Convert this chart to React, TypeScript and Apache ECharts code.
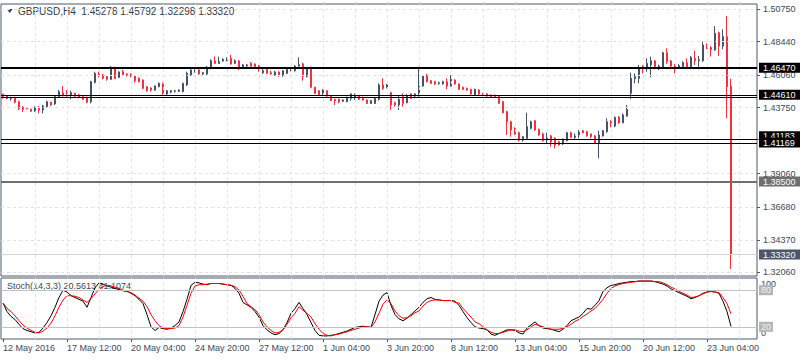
import React, { useEffect, useRef } from "react";
import * as echarts from "echarts";

const headerText = "GBPUSD,H4\u00a0\u00a01.45278 1.45792 1.32298 1.33320";
const stochText = "Stoch(14,3,3) 20.5613 41.1074";
const timeLabels = ["12 May 2016", "17 May 12:00", "20 May 04:00", "24 May 20:00", "27 May 12:00", "1 Jun 04:00", "3 Jun 20:00", "8 Jun 12:00", "13 Jun 04:00", "15 Jun 20:00", "20 Jun 12:00", "23 Jun 04:00"];
const priceTicks = [1.5075, 1.4844, 1.4606, 1.4375, 1.4148, 1.3906, 1.3668, 1.3437, 1.3206];
const priceMin = 1.31798;
const priceMax = 1.51105;
const slotCount = 189;

const opens = [
1.4469,1.4457,1.4439,1.4446,1.4417,1.4375,1.4372,1.4363,1.4346,1.4370,
1.4358,1.4382,1.4413,1.4401,1.4453,1.4481,1.4481,1.4465,1.4476,1.4465,
1.4453,1.4448,1.4417,1.4554,1.4614,1.4607,1.4595,1.4576,1.4659,1.4590,
1.4630,1.4614,1.4611,1.4602,1.4583,1.4571,1.4524,1.4514,1.4500,1.4524,
1.4547,1.4472,1.4486,1.4491,1.4491,1.4488,1.4536,1.4607,1.4630,1.4642,
1.4614,1.4614,1.4661,1.4706,1.4689,1.4706,1.4708,1.4725,1.4689,1.4706,
1.4661,1.4670,1.4689,1.4685,1.4670,1.4623,1.4647,1.4623,1.4607,1.4628,
1.4600,1.4618,1.4637,1.4637,1.4670,1.4685,1.4595,1.4661,1.4519,1.4495,
1.4465,1.4495,1.4457,1.4434,1.4434,1.4420,1.4417,1.4441,1.4448,1.4457,
1.4448,1.4429,1.4405,1.4405,1.4434,1.4536,1.4519,1.4481,1.4410,1.4394,
1.4453,1.4410,1.4472,1.4457,1.4457,1.4528,1.4607,1.4566,1.4559,1.4547,
1.4543,1.4559,1.4528,1.4571,1.4543,1.4519,1.4512,1.4505,1.4465,1.4500,
1.4476,1.4472,1.4465,1.4462,1.4457,1.4417,1.4346,1.4275,1.4228,1.4197,
1.4145,1.4157,1.4228,1.4282,1.4221,1.4188,1.4145,1.4174,1.4157,1.4133,
1.4117,1.4140,1.4197,1.4164,1.4164,1.4211,1.4204,1.4188,1.4174,1.4121,
1.4174,1.4204,1.4275,1.4244,1.4306,1.4268,1.4315,1.4477,1.4581,1.4583,
1.4666,1.4654,1.4678,1.4706,1.4651,1.4654,1.4765,1.4706,1.4678,1.4654,
1.4666,1.4694,1.4654,1.4725,1.4708,1.4708,1.4817,1.4801,1.4784,1.4907,
1.4812,1.4879,1.45278];

const highs = [
1.4476,1.4465,1.4453,1.4453,1.4424,1.4387,1.4377,1.4368,1.4382,1.4387,
1.4394,1.4424,1.4417,1.4457,1.4500,1.4528,1.4500,1.4495,1.4481,1.4472,
1.4457,1.4453,1.4566,1.4630,1.4630,1.4614,1.4600,1.4670,1.4666,1.4633,
1.4642,1.4618,1.4618,1.4607,1.4590,1.4576,1.4528,1.4519,1.4533,1.4554,
1.4552,1.4500,1.4500,1.4500,1.4505,1.4552,1.4630,1.4647,1.4654,1.4647,
1.4628,1.4670,1.4718,1.4737,1.4737,1.4725,1.4732,1.4749,1.4718,1.4713,
1.4685,1.4685,1.4699,1.4689,1.4678,1.4654,1.4651,1.4637,1.4637,1.4633,
1.4642,1.4654,1.4661,1.4678,1.4732,1.4694,1.4661,1.4666,1.4524,1.4500,
1.4505,1.4500,1.4465,1.4439,1.4439,1.4434,1.4453,1.4476,1.4476,1.4465,
1.4453,1.4434,1.4429,1.4448,1.4547,1.4583,1.4543,1.4488,1.4417,1.4465,
1.4476,1.4472,1.4476,1.4476,1.4666,1.4607,1.4614,1.4571,1.4566,1.4559,
1.4566,1.4583,1.4607,1.4576,1.4547,1.4524,1.4517,1.4509,1.4509,1.4505,
1.4481,1.4476,1.4469,1.4467,1.4465,1.4424,1.4353,1.4282,1.4235,1.4204,
1.4174,1.4339,1.4282,1.4287,1.4226,1.4197,1.4197,1.4181,1.4164,1.4140,
1.4157,1.4204,1.4204,1.4192,1.4216,1.4216,1.4211,1.4192,1.4181,1.4211,
1.4216,1.4299,1.4287,1.4311,1.4315,1.4334,1.4394,1.4623,1.4618,1.4678,
1.4678,1.4725,1.4737,1.4713,1.4680,1.4772,1.4796,1.4713,1.4685,1.4685,
1.4704,1.4725,1.4742,1.4779,1.4742,1.4843,1.4831,1.4812,1.4954,1.4914,
1.4931,1.5025,1.45792];

const lows = [
1.4439,1.4434,1.4424,1.4405,1.4358,1.4344,1.4363,1.4344,1.4344,1.4334,
1.4334,1.4377,1.4387,1.4394,1.4448,1.4453,1.4453,1.4434,1.4453,1.4441,
1.4429,1.4405,1.4405,1.4547,1.4590,1.4576,1.4566,1.4571,1.4576,1.4585,
1.4600,1.4595,1.4590,1.4552,1.4554,1.4505,1.4488,1.4488,1.4495,1.4519,
1.4465,1.4457,1.4476,1.4481,1.4486,1.4484,1.4528,1.4600,1.4623,1.4609,
1.4604,1.4600,1.4647,1.4685,1.4685,1.4701,1.4704,1.4680,1.4685,1.4642,
1.4654,1.4666,1.4666,1.4661,1.4630,1.4614,1.4614,1.4607,1.4600,1.4595,
1.4595,1.4614,1.4633,1.4630,1.4666,1.4566,1.4590,1.4512,1.4472,1.4460,
1.4460,1.4453,1.4422,1.4394,1.4405,1.4415,1.4413,1.4424,1.4429,1.4429,
1.4424,1.4401,1.4401,1.4401,1.4424,1.4500,1.4512,1.4358,1.4382,1.4358,
1.4382,1.4405,1.4436,1.4441,1.4453,1.4524,1.4554,1.4543,1.4536,1.4536,
1.4538,1.4505,1.4524,1.4538,1.4500,1.4500,1.4495,1.4467,1.4457,1.4465,
1.4457,1.4453,1.4448,1.4448,1.4401,1.4334,1.4181,1.4169,1.4181,1.4133,
1.4133,1.4150,1.4221,1.4211,1.4176,1.4133,1.4121,1.4098,1.4086,1.4105,
1.4110,1.4136,1.4159,1.4150,1.4157,1.4192,1.4169,1.4157,1.4117,1.4015,
1.4169,1.4197,1.4235,1.4235,1.4259,1.4263,1.4311,1.4436,1.4547,1.4547,
1.4618,1.4630,1.4590,1.4647,1.4642,1.4649,1.4685,1.4654,1.4618,1.4649,
1.4661,1.4649,1.4647,1.4678,1.4647,1.4701,1.4789,1.4737,1.4779,1.4742,
1.4789,1.4299,1.32298];

const closes = [
1.4446,1.4439,1.4446,1.4413,1.4368,1.4363,1.4368,1.4349,1.4377,1.4358,
1.4387,1.4417,1.4394,1.4453,1.4488,1.4465,1.4457,1.4481,1.4457,1.4448,
1.4434,1.4413,1.4559,1.4618,1.4595,1.4583,1.4576,1.4661,1.4581,1.4628,
1.4604,1.4602,1.4595,1.4566,1.4559,1.4512,1.4495,1.4500,1.4528,1.4547,
1.4469,1.4495,1.4495,1.4495,1.4500,1.4547,1.4618,1.4642,1.4647,1.4614,
1.4623,1.4661,1.4708,1.4689,1.4701,1.4718,1.4725,1.4685,1.4708,1.4654,
1.4678,1.4678,1.4670,1.4666,1.4637,1.4637,1.4618,1.4616,1.4628,1.4600,
1.4637,1.4647,1.4654,1.4670,1.4680,1.4595,1.4654,1.4519,1.4476,1.4465,
1.4500,1.4457,1.4424,1.4424,1.4417,1.4429,1.4448,1.4472,1.4457,1.4434,
1.4429,1.4405,1.4424,1.4441,1.4536,1.4512,1.4536,1.4394,1.4394,1.4434,
1.4405,1.4457,1.4441,1.4472,1.4528,1.4600,1.4559,1.4547,1.4543,1.4552,
1.4559,1.4528,1.4576,1.4543,1.4505,1.4505,1.4500,1.4472,1.4505,1.4472,
1.4462,1.4457,1.4453,1.4453,1.4405,1.4339,1.4275,1.4216,1.4188,1.4145,
1.4169,1.4240,1.4275,1.4216,1.4181,1.4140,1.4174,1.4133,1.4110,1.4110,
1.4150,1.4197,1.4164,1.4174,1.4211,1.4197,1.4174,1.4169,1.4121,1.4181,
1.4211,1.4275,1.4244,1.4306,1.4268,1.4323,1.4363,1.4583,1.4595,1.4654,
1.4642,1.4689,1.4708,1.4666,1.4670,1.4765,1.4701,1.4670,1.4654,1.4673,
1.4694,1.4654,1.4732,1.4708,1.4715,1.4820,1.4796,1.4786,1.4902,1.4812,
1.4879,1.4524,1.33320];

const stochK = [
59,45,37,32,24,17,14,12,10,11,
18,27,38,52,68,80,77,71,68,65,
62,52,68,84,92,90,87,85,83,81,
79,78,75,71,65,58,40,20,14,19,
17,16,18,22,28,45,65,88,93,92,
90,89,91,91,91,90,89,88,83,75,
60,56,52,45,36,22,15,10,7,9,
15,27,42,50,60,50,40,27,14,6,
5,5,6,7,9,11,13,16,19,20,
21,20,19,40,62,72,76,55,40,33,
30,34,40,46,52,60,66,68,65,64,
63,63,63,62,55,45,35,27,20,18,
17,15,8,6,9,12,15,15,14,10,
8,18,23,28,22,18,17,16,14,12,
16,22,30,33,36,42,50,49,55,63,
78,84,88,89,91,92,93,94,94,95,
95,95,95,94,92,90,87,82,79,76,
73,70,66,68,71,75,77,78,77,75,
62,45,20.5613];

const stochD = [
59,50,45,38,30,23,18,14,11,10,
13,18,26,38,52,64,71,71,70,68,
64,60,66,74,81,86,88,87,85,83,
80,78,76,72,67,62,53,40,30,22,
18,17,17,18,22,36,55,75,87,89,
89,90,91,91,91,90,89,88,86,80,
70,58,53,48,40,28,20,14,10,11,
15,24,35,42,53,47,42,36,25,16,
9,6,5,7,8,10,12,14,16,18,
20,20,19,28,42,57,64,58,46,38,
34,35,38,43,46,54,60,63,64,64,
63,63,63,60,59,50,43,36,28,25,
20,15,11,9,9,11,13,15,15,13,
12,15,20,24,22,20,18,16,16,16,
18,20,24,29,32,37,41,46,50,57,
65,75,83,87,89,91,92,93,94,95,
95,95,95,94,94,92,89,85,82,78,
75,72,68,69,71,74,77,78,77,76,
68,58,41.1074];

const levelLines = [1.4665, 1.4651, 1.4462, 1.4448, 1.4147, 1.4119];
const levelTagTexts = ["1.46470", "1.44610", "1.41183", "1.41169"];
const levelTagValues = [1.4658, 1.4467, 1.4171, 1.4127];
const supportLevel = 1.385;
const lastPrice = 1.3332;
const stochLevels = [80, 20];

const FONT = "'Liberation Sans', Arial, sans-serif";
const TEXT = "#3b4859";
const FRAME = "#4b5866";
const GRIDC = "#e2e2e2";
const BULL = "#435266";
const BEAR = "#f2313d";

function tag(text: string, bg: string, fg: string) {
  return {
    show: true,
    position: "end",
    distance: 2,
    formatter: text,
    backgroundColor: bg,
    color: fg,
    fontFamily: FONT,
    fontSize: 9,
    lineHeight: 9,
    padding: [1, 6, 0, 4],
  };
}

function buildOption(): any {
  const categories = Array.from({ length: slotCount }, (_, i) => String(i));
  const candleData = opens.map((o, i) => [o, closes[i], lows[i], highs[i]]);
  const vIdx: number[] = [];
  for (let i = 8; i < slotCount; i += 8) vIdx.push(i);
  const solidBlack = { color: "#000", width: 1, type: "solid" };

  const hLineData: any[] = [
    ...levelLines.map((v) => ({ yAxis: v, lineStyle: solidBlack })),
    { yAxis: supportLevel, lineStyle: { color: "#6f6f6f", width: 2, type: "solid" }, label: tag("1.38500", "#6f6f6f", "#ffffff") },
    { yAxis: lastPrice, lineStyle: { color: "#d4d4d4", width: 1, type: "solid" }, label: tag("1.33320", "#4b5768", "#ffffff") },
    ...levelTagValues.map((v, i) => ({
      yAxis: v,
      lineStyle: { color: "rgba(0,0,0,0)", width: 0, type: "solid" },
      label: tag(levelTagTexts[i], "#000000", "#ffffff"),
    })),
  ];

  const labelFont = { color: TEXT, fontFamily: FONT, fontSize: 9 };

  return {
    animation: false,
    backgroundColor: "#ffffff",
    textStyle: { fontFamily: FONT },
    graphic: [
      { type: "polygon", shape: { points: [[7, 9], [12.5, 9], [9.75, 13]] }, style: { fill: "#2f3a48" } },
      { type: "text", x: 18, y: 11, style: { text: headerText, font: `10px ${FONT}`, fill: "#2f3a48", verticalAlign: "middle" } },
      { type: "text", x: 7, y: 286, style: { text: stochText, font: `9px ${FONT}`, fill: TEXT, verticalAlign: "middle" } },
    ],
    grid: [
      { left: 1, top: 4, width: 756, height: 272, show: true, borderColor: FRAME, borderWidth: 1, backgroundColor: "transparent", outerBoundsMode: "none" },
      { left: 1, top: 278, width: 756, height: 61, show: true, borderColor: FRAME, borderWidth: 1, backgroundColor: "transparent", outerBoundsMode: "none" },
    ],
    xAxis: [
      {
        type: "category", gridIndex: 0, data: categories, boundaryGap: true,
        axisLine: { show: false }, axisTick: { show: false }, axisLabel: { show: false }, splitLine: { show: false },
      },
      {
        type: "category", gridIndex: 1, data: categories, boundaryGap: true,
        axisLine: { show: false },
        axisTick: { show: true, alignWithLabel: true, length: 3, interval: (i: number) => i % 16 === 0, lineStyle: { color: FRAME } },
        axisLabel: {
          ...labelFont,
          interval: (i: number) => i % 16 === 0 && i / 16 < timeLabels.length,
          formatter: (_v: string, i: number) => timeLabels[i / 16] ?? "",
          align: "left",
          margin: 4,
        },
        splitLine: { show: false },
      },
    ],
    yAxis: [
      {
        type: "value", gridIndex: 0, position: "right", min: priceMin, max: priceMax,
        axisLine: { show: false },
        axisTick: { show: true, length: 3, lineStyle: { color: FRAME }, customValues: priceTicks },
        axisLabel: { ...labelFont, customValues: priceTicks, formatter: (v: number) => v.toFixed(5), margin: 6 },
        splitLine: { show: false },
      },
      {
        type: "value", gridIndex: 1, position: "right", min: 0, max: 100,
        axisLine: { show: false }, axisTick: { show: false }, splitLine: { show: false },
        axisLabel: {
          ...labelFont,
          customValues: [0, 100],
          margin: 4,
          formatter: (v: number) => (v === 100 ? "{t|100}" : "{b|0}"),
          rich: {
            t: { ...labelFont, padding: [11, 0, 0, 0] },
            b: { ...labelFont, padding: [0, 0, 13, 0] },
          },
        },
      },
    ],
    series: [
      {
        type: "line", xAxisIndex: 0, yAxisIndex: 0, data: [], z: 1, silent: true,
        markLine: {
          silent: true, precision: 6, symbol: ["none", "none"], label: { show: false },
          lineStyle: { color: GRIDC, type: [3, 3], width: 1 },
          data: [...priceTicks.map((v) => ({ yAxis: v })), ...vIdx.map((i) => ({ xAxis: i }))],
        },
      },
      {
        type: "line", xAxisIndex: 1, yAxisIndex: 1, data: [], z: 1, silent: true,
        markLine: {
          silent: true, precision: 6, symbol: ["none", "none"], label: { show: false },
          lineStyle: { color: GRIDC, type: [3, 3], width: 1 },
          data: [
            ...vIdx.map((i) => ({ xAxis: i })),
            ...stochLevels.map((v) => ({
              yAxis: v,
              lineStyle: { color: "#c2c2c2", type: "solid", width: 1 },
              label: { ...tag(String(v), "#b5b5b5", "#f2f2f2"), padding: [1, 2, 0, 2] },
            })),
          ],
        },
      },
      {
        type: "candlestick", xAxisIndex: 0, yAxisIndex: 0, data: candleData, barWidth: 2, z: 3,
        itemStyle: { color: BULL, color0: BEAR, borderColor: BULL, borderColor0: BEAR, borderWidth: 1 },
      },
      {
        type: "line", xAxisIndex: 0, yAxisIndex: 0, data: [], z: 4, silent: true,
        markLine: { silent: true, precision: 6, symbol: ["none", "none"], label: { show: false }, data: hLineData },
      },
      {
        type: "line", xAxisIndex: 1, yAxisIndex: 1, data: stochK, showSymbol: false, symbol: "none", z: 3,
        lineStyle: { color: "#000000", width: 1 },
      },
      {
        type: "line", xAxisIndex: 1, yAxisIndex: 1, data: stochD, showSymbol: false, symbol: "none", z: 3,
        lineStyle: { color: "#ff0000", width: 1 },
      },
    ],
  };
}

export default function App() {
  const ref = useRef<HTMLDivElement>(null);
  useEffect(() => {
    if (!ref.current) return;
    const chart = echarts.init(ref.current, null, { renderer: "svg" });
    chart.setOption(buildOption());
    return () => chart.dispose();
  }, []);
  return (
    <div
      ref={ref}
      style={{ position: "fixed", left: 0, top: 0, width: 800, height: 360, background: "#ffffff" }}
    />
  );
}
